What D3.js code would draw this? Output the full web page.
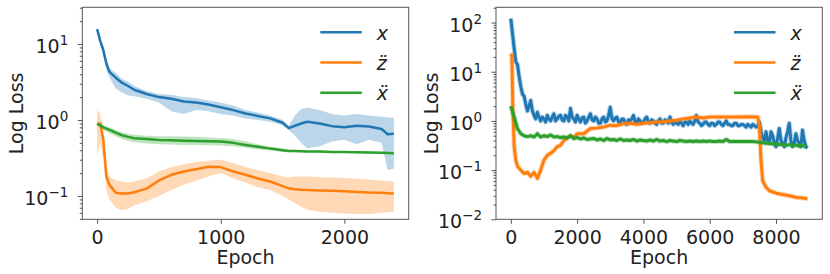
<!DOCTYPE html>
<html>
<head>
<meta charset="utf-8">
<script src="https://cdn.jsdelivr.net/npm/d3@7"></script>
<style>
  body { margin: 0; background: white; }
  text { font-family: "DejaVu Sans", sans-serif; fill: #222; }
</style>
</head>
<body>
<div id="chart"><svg width="830" height="274"></svg></div>
<script>
// ---- Data: left panel (mean curve + min/max band) ----
let leftEpochs = [0, 25, 50, 75, 100, 150, 200, 250, 300, 400, 500, 600, 700, 800, 900, 1000, 1100, 1200, 1300, 1400, 1500, 1550, 1600, 1650, 1700, 1800, 1900, 2000, 2100, 2200, 2300, 2350, 2400];

let leftX     = [15.7, 11, 8.3, 5.5, 4.3, 3.6, 3.1, 2.8, 2.5, 2.2, 2.0, 1.9, 1.75, 1.7, 1.6, 1.47, 1.35, 1.22, 1.13, 1.05, 0.92, 0.78, 0.84, 0.9, 0.95, 0.9, 0.83, 0.8, 0.84, 0.82, 0.76, 0.65, 0.66];
let leftXLow  = [15, 10, 7, 4.6, 3.6, 2.6, 2.3, 2.1, 2.05, 1.9, 1.7, 1.3, 1.2, 1.35, 1.3, 1.2, 1.15, 1.05, 1.0, 0.95, 0.85, 0.74, 0.62, 0.5, 0.42, 0.45, 0.52, 0.55, 0.48, 0.55, 0.5, 0.22, 0.23];
let leftXHigh = [16.5, 12, 9.5, 6.3, 4.8, 4.2, 3.5, 3.2, 2.8, 2.4, 2.2, 2.15, 2.0, 1.95, 1.8, 1.7, 1.55, 1.35, 1.25, 1.15, 1.0, 0.84, 1.15, 1.4, 1.45, 1.35, 1.2, 1.15, 1.2, 1.15, 1.1, 1.08, 1.07];

let leftZdd     = [0.86, 0.9, 0.55, 0.18, 0.14, 0.11, 0.108, 0.108, 0.112, 0.125, 0.16, 0.19, 0.21, 0.225, 0.243, 0.24, 0.21, 0.19, 0.17, 0.155, 0.135, 0.126, 0.123, 0.121, 0.12, 0.118, 0.117, 0.115, 0.113, 0.111, 0.11, 0.109, 0.108];
let leftZddLow  = [0.33, 0.5, 0.3, 0.12, 0.09, 0.07, 0.065, 0.068, 0.075, 0.085, 0.1, 0.12, 0.14, 0.16, 0.18, 0.2, 0.17, 0.15, 0.13, 0.12, 0.1, 0.09, 0.08, 0.072, 0.066, 0.062, 0.06, 0.059, 0.058, 0.058, 0.06, 0.061, 0.062];
let leftZddHigh = [1.35, 1.2, 0.75, 0.25, 0.18, 0.16, 0.155, 0.15, 0.155, 0.17, 0.21, 0.24, 0.26, 0.28, 0.29, 0.3, 0.27, 0.24, 0.22, 0.2, 0.18, 0.175, 0.18, 0.18, 0.18, 0.176, 0.175, 0.172, 0.168, 0.165, 0.16, 0.158, 0.155];

let leftXdd     = [0.9, 0.85, 0.8, 0.77, 0.74, 0.68, 0.63, 0.6, 0.575, 0.56, 0.545, 0.54, 0.535, 0.53, 0.525, 0.52, 0.5, 0.47, 0.445, 0.42, 0.4, 0.39, 0.39, 0.388, 0.386, 0.385, 0.38, 0.378, 0.375, 0.372, 0.37, 0.368, 0.365];
let leftXddLow  = [0.85, 0.8, 0.74, 0.7, 0.67, 0.61, 0.56, 0.53, 0.51, 0.49, 0.48, 0.475, 0.47, 0.47, 0.465, 0.46, 0.45, 0.43, 0.41, 0.4, 0.38, 0.375, 0.375, 0.375, 0.374, 0.373, 0.37, 0.368, 0.365, 0.362, 0.36, 0.358, 0.355];
let leftXddHigh = [0.95, 0.9, 0.86, 0.83, 0.8, 0.74, 0.69, 0.66, 0.64, 0.62, 0.61, 0.61, 0.605, 0.6, 0.59, 0.58, 0.56, 0.52, 0.48, 0.445, 0.42, 0.405, 0.403, 0.4, 0.398, 0.397, 0.392, 0.39, 0.387, 0.384, 0.382, 0.38, 0.378];

// ---- Data: right panel (single run) ----
let rightXEpochs = d3.range(0, 9000, 50); // 0, 50, ... 8950
let rightX = [120, 60, 30, 16, 14, 8, 5, 3.5, 3.2, 2.2, 1.6, 2.0, 2.6, 1.6, 1.3, 1.1, 1.5, 1.2, 1.0, 1.2,
  1.1, 0.95, 1.3, 1.1, 1.0, 1.2, 1.4, 1.0, 1.1, 1.25, 1.3, 1.05, 1.0, 1.3, 1.2, 1.0, 1.8, 1.2, 1.1, 0.95,
  1.3, 1.1, 0.95, 1.15, 1.2, 0.9, 1.0, 1.2, 1.4, 1.05, 1.0, 1.2, 1.1, 0.9, 0.9, 1.1, 1.2, 0.95, 1.0, 1.3,
  1.9, 1.1, 1.0, 1.15, 1.2, 0.95, 0.9, 1.1, 1.1, 0.9, 0.85, 1.05, 1.0, 1.1, 1.3, 0.95, 0.9, 1.1, 1.0, 0.9,
  0.95, 1.1, 1.2, 0.95, 0.9, 1.05, 1.0, 0.9, 0.85, 1.0, 1.1, 0.9, 0.9, 1.05, 1.0, 0.9, 1.2, 0.95, 0.85, 0.95,
  0.9, 0.85, 1.0, 0.9, 0.8, 0.95, 0.95, 0.85, 1.0, 0.9, 0.85, 1.0, 1.3, 0.95, 0.9, 0.8, 0.85, 0.95, 0.95, 0.85,
  0.8, 0.9, 0.9, 0.8, 0.85, 0.95, 0.95, 0.85, 0.8, 0.9, 1.0, 0.85, 0.85, 0.8, 0.8, 0.9, 0.9, 0.8, 0.8, 0.85,
  0.85, 0.8, 0.75, 0.85, 0.8, 0.75, 0.85, 0.8, 0.75, 0.8, 0.95, 0.6, 0.45, 0.4, 0.6, 0.4, 0.35, 0.6, 0.5, 0.35,
  0.3, 0.45, 0.7, 0.4, 0.35, 0.3, 0.45, 0.6, 0.9, 0.4, 0.3, 0.35, 0.55, 0.4, 0.35, 0.3, 0.65, 0.4, 0.3, 0.28];

let rightXddEpochs = d3.range(0, 9000, 100); // 0, 100, ... 8900
let rightXdd = [2.0, 1.2, 0.7, 0.55, 0.5, 0.48, 0.5, 0.47, 0.55, 0.47, 0.5, 0.48, 0.52, 0.47, 0.48, 0.46, 0.47, 0.45, 0.5, 0.44,
  0.46, 0.43, 0.45, 0.42, 0.43, 0.44, 0.41, 0.43, 0.4, 0.44, 0.41, 0.42, 0.4, 0.43, 0.4, 0.41, 0.4, 0.42, 0.39, 0.41,
  0.4, 0.39, 0.41, 0.39, 0.42, 0.39, 0.4, 0.38, 0.4, 0.39, 0.38, 0.4, 0.39, 0.38, 0.39, 0.38, 0.39, 0.38, 0.39, 0.38,
  0.39, 0.38, 0.38, 0.39, 0.38, 0.42, 0.38, 0.38, 0.38, 0.38, 0.38, 0.38, 0.38, 0.38, 0.375, 0.37, 0.36, 0.35, 0.35, 0.34,
  0.34, 0.33, 0.33, 0.32, 0.33, 0.32, 0.32, 0.31, 0.32, 0.3];

let rightZddEpochs = [0, 30, 60, 100, 150, 200, 300, 400, 500, 600, 700, 800, 900, 1000, 1100, 1200, 1300, 1400, 1500, 1600, 1700, 1800, 1900, 2000, 2200, 2400, 2600, 2800, 3000, 3200, 3400, 3600, 3800, 4000, 4200, 4400, 4600, 4800, 5000, 5200, 5400, 5600, 5800, 6000, 6400, 6800, 7200, 7450, 7500, 7550, 7600, 7700, 7800, 8000, 8200, 8400, 8600, 8800, 8950];
let rightZdd = [20, 22, 2.0, 0.3, 0.16, 0.12, 0.1, 0.085, 0.09, 0.075, 0.09, 0.068, 0.1, 0.16, 0.2, 0.22, 0.25, 0.3, 0.32, 0.4, 0.45, 0.5, 0.45, 0.55, 0.55, 0.7, 0.72, 0.75, 0.82, 0.8, 0.88, 0.9, 0.85, 0.9, 0.92, 0.95, 0.95, 1.0, 1.03, 1.1, 1.15, 1.2, 1.15, 1.2, 1.2, 1.2, 1.22, 1.2, 0.8, 0.15, 0.06, 0.045, 0.038, 0.034, 0.032, 0.03, 0.028, 0.027, 0.026];

// ---- Labels / ticks ----
let legendLabels = ["x", "z\u0308", "x\u0308"];
let leftXTicks = [0, 1000, 2000];
let rightXTicks = [0, 2000, 4000, 6000, 8000];
let leftYDecades = [-1, 0, 1];
let rightYDecades = [-2, -1, 0, 1, 2];

let colors = ["#1f77b4", "#ff7f0e", "#2ca02c"];

let svg = d3.select("div#chart svg");

function zip(xs, ys) { return xs.map((e, i) => ({ e: e, v: ys[i] })); }
function zip3(xs, lo, hi) { return xs.map((e, i) => ({ e: e, lo: lo[i], hi: hi[i] })); }

function drawPanel(p) {
  let g = svg.append("g").attr("transform", "translate(" + p.left + "," + p.top + ")");

  let x = d3.scaleLinear().domain(p.xDomain).range([0, p.width]);
  let y = d3.scaleLog().domain(p.yDomain).range([p.height, 0]);

  let clipId = "clip" + p.id;
  g.append("clipPath").attr("id", clipId)
    .append("rect").attr("width", p.width).attr("height", p.height);

  let plot = g.append("g").attr("clip-path", "url(#" + clipId + ")");

  // Bands
  let area = d3.area().x(d => x(d.e)).y0(d => y(d.lo)).y1(d => y(d.hi));
  p.bands.forEach((b, i) => {
    if (!b) return;
    plot.append("path")
      .datum(b)
      .attr("d", area)
      .attr("fill", colors[i])
      .attr("fill-opacity", 0.3)
      .attr("stroke", "none");
  });

  // Lines
  let line = d3.line().x(d => x(d.e)).y(d => y(d.v));
  p.lines.forEach((l, i) => {
    if (p.halo) {
      plot.append("path")
        .datum(l)
        .attr("d", line)
        .attr("fill", "none")
        .attr("stroke", colors[i])
        .attr("stroke-opacity", 0.3)
        .attr("stroke-width", p.lineWidth + 2)
        .attr("stroke-linejoin", "round");
    }
    plot.append("path")
      .datum(l)
      .attr("d", line)
      .attr("fill", "none")
      .attr("stroke", colors[i])
      .attr("stroke-width", p.lineWidth)
      .attr("stroke-linejoin", "round");
  });

  // X axis
  let xAxis = g.append("g")
    .attr("transform", "translate(0," + p.height + ")")
    .call(d3.axisBottom(x).tickValues(p.xTicks).tickSize(4.5).tickSizeOuter(0).tickPadding(7).tickFormat(d3.format("d")));
  xAxis.select(".domain").remove();
  xAxis.selectAll(".tick line").attr("stroke", "#555");
  xAxis.selectAll(".tick text")
    .attr("font-size", 19)
    .attr("font-family", "DejaVu Sans")
    .attr("fill", "#222");

  // Y axis: major decades with 10^n labels
  let yAxis = g.append("g")
    .call(d3.axisLeft(y).tickValues(p.yDecades.map(k => Math.pow(10, k))).tickSize(4.5).tickSizeOuter(0).tickFormat(""));
  yAxis.select(".domain").remove();
  yAxis.selectAll(".tick line").attr("stroke", "#555");

  p.yDecades.forEach(k => {
    let t = g.append("text")
      .attr("x", -14)
      .attr("y", y(Math.pow(10, k)) + 9)
      .attr("text-anchor", "end")
      .style("font-size", "19px");
    t.append("tspan").text("10");
    t.append("tspan")
      .attr("dy", -8)
      .style("font-size", "13.5px")
      .text(k < 0 ? "\u2212" + (-k) : "" + k);
  });

  // Minor log ticks
  let minors = [];
  d3.range(-3, 3).forEach(k => {
    d3.range(2, 10).forEach(m => {
      let v = m * Math.pow(10, k);
      if (v > p.yDomain[0] && v < p.yDomain[1]) minors.push(v);
    });
  });
  let yMinor = g.append("g")
    .call(d3.axisLeft(y).tickValues(minors).tickSize(2.5).tickSizeOuter(0).tickFormat(""));
  yMinor.select(".domain").remove();
  yMinor.selectAll(".tick line").attr("stroke", "#555");

  // Frame
  g.append("rect")
    .attr("width", p.width)
    .attr("height", p.height)
    .attr("fill", "none")
    .attr("stroke", "#555")
    .attr("stroke-width", 1);

  // Axis titles
  g.append("text")
    .attr("x", p.width / 2)
    .attr("y", p.height + 45)
    .attr("text-anchor", "middle")
    .style("font-size", "19px")
    .text("Epoch");

  g.append("text")
    .attr("transform", "rotate(-90)")
    .attr("x", -p.height / 2)
    .attr("y", p.yLabelX - p.left)
    .attr("text-anchor", "middle")
    .style("font-size", "19px")
    .text("Log Loss");

  // Legend
  legendLabels.forEach((lab, i) => {
    let ly = 25 + i * 30.2;
    g.append("line")
      .attr("x1", 238).attr("x2", 279.5)
      .attr("y1", ly).attr("y2", ly)
      .attr("stroke", colors[i])
      .attr("stroke-width", 2.6);
    g.append("text")
      .attr("x", 294.5)
      .attr("y", ly + 7.5)
      .style("font-size", "19px")
      .style("font-style", "italic")
      .text(lab);
  });
}

// Left panel: mean +- band over several runs
drawPanel({
  id: "L",
  left: 82.3, top: 7.3, width: 326.4, height: 212,
  xDomain: [-120, 2520],
  yDomain: [Math.pow(10, -1.307), Math.pow(10, 1.483)],
  xTicks: leftXTicks,
  yDecades: leftYDecades,
  yLabelX: 23,
  lineWidth: 2.5,
  halo: false,
  bands: [zip3(leftEpochs, leftXLow, leftXHigh), zip3(leftEpochs, leftZddLow, leftZddHigh), zip3(leftEpochs, leftXddLow, leftXddHigh)],
  lines: [zip(leftEpochs, leftX), zip(leftEpochs, leftZdd), zip(leftEpochs, leftXdd)]
});

// Right panel: single long run
drawPanel({
  id: "R",
  left: 496, top: 7.3, width: 326.3, height: 212,
  xDomain: [-447.5, 9397.5],
  yDomain: [0.01, Math.pow(10, 2.31)],
  xTicks: rightXTicks,
  yDecades: rightYDecades,
  yLabelX: 438,
  lineWidth: 3,
  halo: true,
  bands: [null, null, null],
  lines: [zip(rightXEpochs, rightX), zip(rightZddEpochs, rightZdd), zip(rightXddEpochs, rightXdd)]
});
</script>
</body>
</html>
